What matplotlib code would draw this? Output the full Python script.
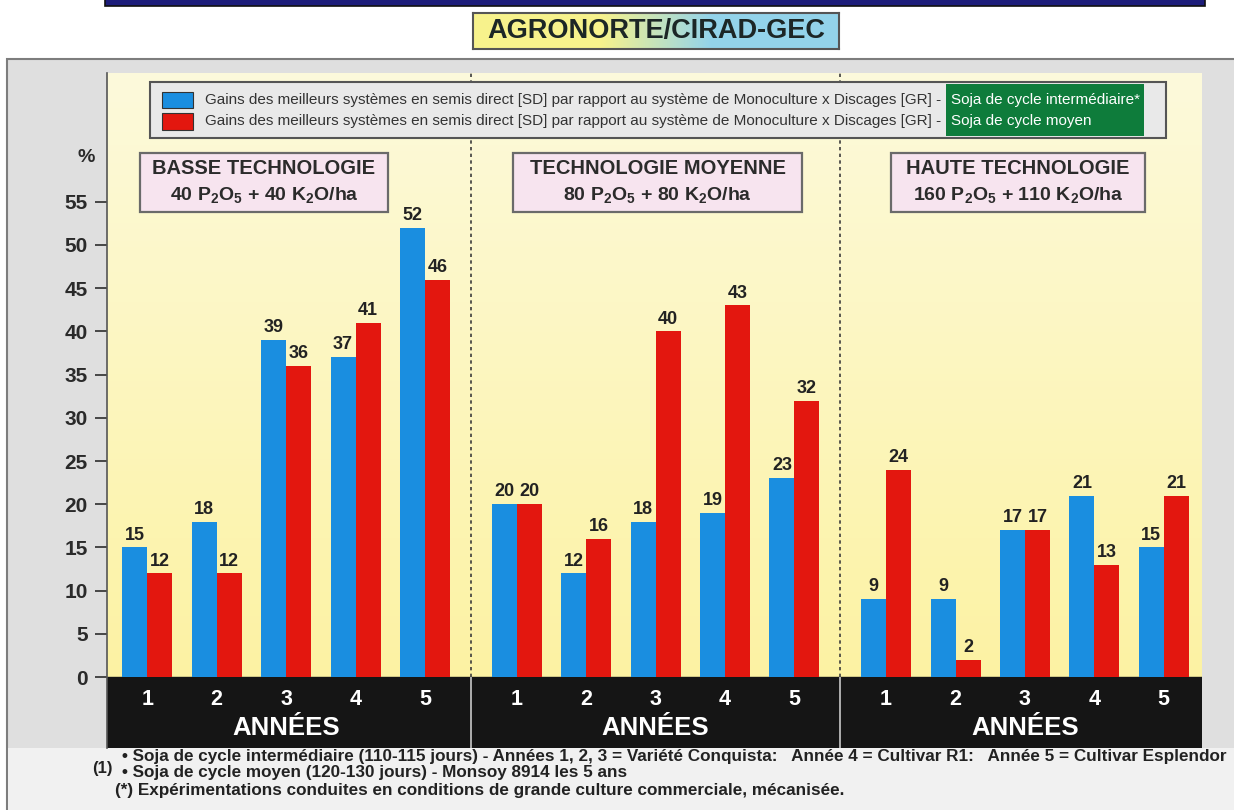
import matplotlib
matplotlib.use('Agg')
import matplotlib.pyplot as plt
from matplotlib.patches import Rectangle
from matplotlib import font_manager
import numpy as np

# data
years = [1, 2, 3, 4, 5]
group_titles = ['BASSE TECHNOLOGIE', 'TECHNOLOGIE MOYENNE', 'HAUTE TECHNOLOGIE']
group_doses = [r'40 P$_2$O$_5$ + 40 K$_2$O/ha',
               r'80 P$_2$O$_5$ + 80 K$_2$O/ha',
               r'160 P$_2$O$_5$ + 110 K$_2$O/ha']
gain_intermediaire = [[15, 18, 39, 37, 52],
                      [20, 12, 18, 19, 23],
                      [9, 9, 17, 21, 15]]
gain_moyen = [[12, 12, 36, 41, 46],
              [20, 16, 40, 43, 32],
              [24, 2, 17, 13, 21]]
yticks = list(range(0, 60, 5))

legend_text = 'Gains des meilleurs systèmes en semis direct [SD] par rapport au système de Monoculture x Discages [GR] -'
legend_green = ['Soja de cycle intermédiaire*', 'Soja de cycle moyen']
footer_lines = ['• Soja de cycle intermédiaire (110-115 jours) - Années 1, 2, 3 = Variété Conquista:   '
                'Année 4 = Cultivar R1:   Année 5 = Cultivar Esplendor',
                '• Soja de cycle moyen (120-130 jours) - Monsoy 8914 les 5 ans',
                '(*) Expérimentations conduites en conditions de grande culture commerciale, mécanisée.']

# fonts
names = {f.name for f in font_manager.fontManager.ttflist}
BOLD = 'Liberation Sans' if 'Liberation Sans' in names else 'DejaVu Sans'
NARROW = 'Liberation Sans Narrow' if 'Liberation Sans Narrow' in names else BOLD
plt.rcParams['font.family'] = [BOLD, 'DejaVu Sans']
plt.rcParams['mathtext.default'] = 'regular'

BLUE = '#1a8ee0'
RED = '#e3170f'

W, H = 1234, 810
fig = plt.figure(figsize=(W / 100, H / 100), dpi=100)
fig.patch.set_facecolor('white')


def box(x0, y0, x1, y1, **kw):
    r = Rectangle((x0 / W, 1 - y1 / H), (x1 - x0) / W, (y1 - y0) / H,
                  transform=fig.transFigure, **kw)
    fig.add_artist(r)
    return r


def ftext(x, y, s, **kw):
    return fig.text(x / W, 1 - y / H, s, **kw)


# background panel, banner
box(7, 59, 1240, 820, facecolor='#dfdfdf', edgecolor='#7d7d7d', lw=1.5, zorder=-3)
box(8, 748, 1240, 820, facecolor='#f1f1f1', edgecolor='none', zorder=-2)
box(105, -3, 1205, 6, facecolor='#1d1d7a', edgecolor='#111', lw=1.2, zorder=2)

# title box with yellow -> blue gradient
tax = fig.add_axes([473 / W, 1 - 49 / H, (839 - 473) / W, 36 / H])
t = np.linspace(0, 1, 200)
mix = np.clip((t - 0.35) / 0.3, 0, 1)[:, None]
c_left = np.array([0.97, 0.95, 0.55])
c_right = np.array([0.58, 0.83, 0.92])
tax.imshow((c_left * (1 - mix) + c_right * mix)[None, :, :], aspect='auto', extent=(0, 1, 0, 1))
tax.set_xticks([])
tax.set_yticks([])
for s in tax.spines.values():
    s.set_color('#555')
    s.set_linewidth(1.5)
tax.text(0.5, 0.5, 'AGRONORTE/CIRAD-GEC', ha='center', va='center', fontsize=19.5,
         fontweight='bold', color='#1c2626', transform=tax.transAxes)

# main axes
ax = fig.add_axes([107 / W, 1 - 748 / H, (1202 - 107) / W, (748 - 73) / H])
XMAX, YMIN, YMAX = 15.77, -8.2, 69.9
period = 5.32
first = 0.58
bw = 0.36

grad = np.linspace(0, 1, 100)[:, None]
top_c = np.array([0.99, 0.98, 0.86])
bot_c = np.array([0.99, 0.95, 0.64])
ax.imshow(top_c * (1 - grad[:, :, None]) + bot_c * grad[:, :, None],
          extent=(0, XMAX, 0, YMAX), aspect='auto', zorder=0)
ax.axhspan(YMIN, 0, color='#151515', zorder=1)

for g in range(3):
    centers = [g * period + first + i for i in range(len(years))]
    xb = [c - bw / 2 for c in centers]
    xr = [c + bw / 2 for c in centers]
    ax.bar(xb, gain_intermediaire[g], width=bw, color=BLUE, zorder=3)
    ax.bar(xr, gain_moyen[g], width=bw, color=RED, zorder=3)
    for x, v in zip(xb, gain_intermediaire[g]):
        ax.text(x, v + 0.45, str(v), ha='center', va='bottom', fontsize=13,
                fontweight='bold', color='#222', zorder=4)
    for x, v in zip(xr, gain_moyen[g]):
        ax.text(x, v + 0.45, str(v), ha='center', va='bottom', fontsize=13,
                fontweight='bold', color='#222', zorder=4)
    for c, yr in zip(centers, years):
        ax.text(c, -2.6, str(yr), ha='center', va='center', fontsize=15.5,
                fontweight='bold', color='white', zorder=4)
    ax.text(centers[2], -5.9, 'ANNÉES', ha='center', va='center', fontsize=18.5,
            fontweight='bold', color='white', zorder=4)
    if g > 0:
        sep = g * period - 0.08
        ax.vlines(sep, 0, YMAX, colors='#3c3c3c', linestyles=(0, (2, 2)), lw=1.2, zorder=2)
        ax.vlines(sep, YMIN, 0, colors='#c8c8c8', lw=1.2, zorder=2)

ax.set_xlim(0, XMAX)
ax.set_ylim(YMIN, YMAX)
ax.set_xticks([])
ax.set_yticks(yticks)
ax.set_yticklabels([str(v) for v in yticks], fontsize=15, fontweight='bold', color='#2a2a2a')
ax.tick_params(axis='y', length=9, width=1.3, color='#3a3a3a', pad=5)
for s in ['top', 'right', 'bottom']:
    ax.spines[s].set_visible(False)
ax.spines['left'].set_color('#555')
ax.spines['left'].set_linewidth(1.2)

ftext(86, 158, '%', ha='center', va='center', fontsize=14, fontweight='bold', color='#2a2a2a')

# group boxes
group_boxes = [(140, 388), (513, 802), (891, 1145)]
for (x0, x1), title, dose in zip(group_boxes, group_titles, group_doses):
    box(x0, 153, x1, 212, facecolor='#f7e4ef', edgecolor='#6a6a6a', lw=1.6, zorder=5)
    ftext((x0 + x1) / 2, 168, title, ha='center', va='center', fontsize=14.5,
          fontweight='bold', color='#2b2b2b', zorder=6)
    ftext((x0 + x1) / 2, 195, dose, ha='center', va='center', fontsize=14,
          fontweight='bold', color='#2b2b2b', zorder=6)

# legend
box(150, 82, 1166, 138, facecolor='#e9e9e9', edgecolor='#555', lw=1.5, zorder=5)
box(162, 92, 193, 108, facecolor=BLUE, edgecolor='#333', lw=0.8, zorder=6)
box(162, 113, 193, 130, facecolor=RED, edgecolor='#333', lw=0.8, zorder=6)
box(946, 84, 1144, 136, facecolor='#0e7c3b', edgecolor='none', zorder=6)
leg_texts = []
for y in (100, 121):
    leg_texts.append(ftext(205, y, legend_text, ha='left', va='center', fontsize=11,
                           family=[NARROW, 'DejaVu Sans'], color='#333', zorder=7))
green_texts = []
for y, s in zip((100, 121), legend_green):
    green_texts.append(ftext(951, y, s, ha='left', va='center', fontsize=11,
                             family=[NARROW, 'DejaVu Sans'], color='white', zorder=7))

# footer
ftext(102, 768, '(1)', ha='center', va='center', fontsize=12, fontweight='bold',
      family=[NARROW, 'DejaVu Sans'], color='#222')
foot = []
for x, y, s in zip((122, 122, 115), (756, 773, 790), footer_lines):
    foot.append(ftext(x, y, s, ha='left', va='center', fontsize=10, fontweight='bold',
                      family=[NARROW, 'DejaVu Sans'], color='#222'))

# scale long text lines to the widths seen in the chart
fig.canvas.draw()
renderer = fig.canvas.get_renderer()


def fit(txt, width_px):
    w = txt.get_window_extent(renderer).width
    txt.set_fontsize(txt.get_fontsize() * width_px / w)


for tl in leg_texts:
    fit(tl, 736)
fit(green_texts[0], 188)
green_texts[1].set_fontsize(green_texts[0].get_fontsize())
fit(foot[0], 1102)
for tl in foot[1:]:
    tl.set_fontsize(foot[0].get_fontsize())

fig.savefig('out.png', dpi=100)
